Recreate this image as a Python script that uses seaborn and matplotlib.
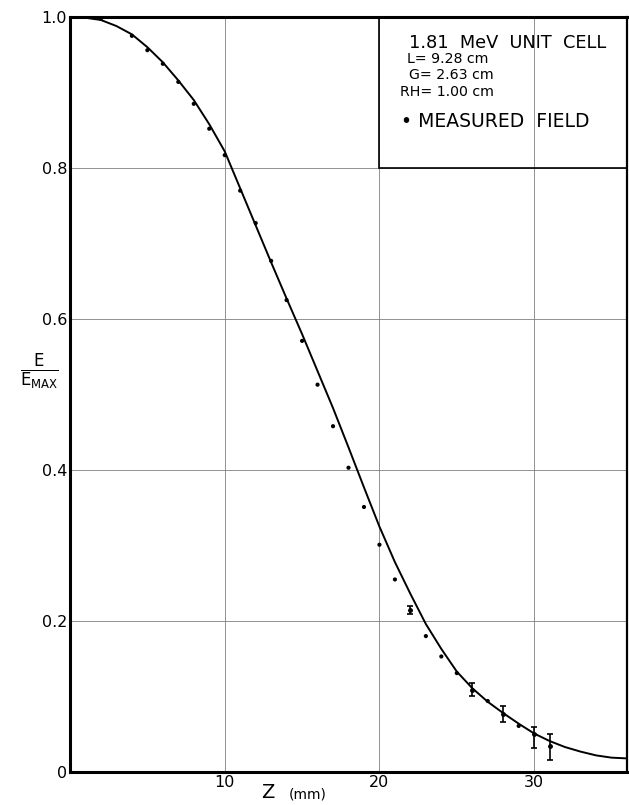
import matplotlib
matplotlib.use("Agg")
import matplotlib.pyplot as plt
import seaborn as sns
import pandas as pd
from matplotlib.patches import Rectangle

# Calculated field curve
z_curve = [0, 1, 2, 3, 4, 5, 6, 7, 8, 9, 10, 11, 12, 13, 14, 15, 16, 17, 18,
           19, 20, 21, 22, 23, 24, 25, 26, 27, 28, 29, 30, 31, 32, 33, 34, 35, 36]
e_curve = [1.000, 0.999, 0.996, 0.988, 0.977, 0.960, 0.940, 0.916, 0.890, 0.858,
           0.822, 0.773, 0.724, 0.675, 0.627, 0.580, 0.531, 0.482, 0.430, 0.377,
           0.325, 0.278, 0.236, 0.196, 0.163, 0.133, 0.111, 0.093, 0.078, 0.064,
           0.051, 0.041, 0.033, 0.027, 0.022, 0.019, 0.018]

# Measured field points
z_meas = [2, 4, 5, 6, 7, 8, 9, 10, 11, 12, 13, 14, 15, 16, 17, 18, 19, 20,
          21, 23, 24, 25, 27, 29]
e_meas = [0.998, 0.975, 0.956, 0.938, 0.914, 0.885, 0.852, 0.817, 0.770, 0.727,
          0.677, 0.625, 0.571, 0.513, 0.458, 0.403, 0.351, 0.301, 0.255, 0.180,
          0.153, 0.131, 0.094, 0.061]

# Points with error bars
z_err = [22, 26, 28, 30, 31]
e_err = [0.215, 0.109, 0.077, 0.050, 0.034]
err_lo = [0.0055, 0.009, 0.011, 0.018, 0.018]
err_hi = [0.0055, 0.009, 0.011, 0.010, 0.016]

x_ticks = [10, 20, 30]
y_ticks = [0, 0.2, 0.4, 0.6, 0.8, 1.0]
y_tick_labels = ['0', '0.2', '0.4', '0.6', '0.8', '1.0']

legend_title = '1.81  MeV  UNIT  CELL'
legend_lines = ['L= 9.28 cm', 'G= 2.63 cm', 'RH= 1.00 cm']

sns.set_theme(style="white")
plt.rcParams['font.family'] = ['DejaVu Sans']
plt.rcParams['mathtext.fontset'] = 'dejavusans'
plt.rcParams['text.color'] = 'black'

fig = plt.figure(figsize=(6.29, 8.05), dpi=100)
ax = fig.add_axes([0.1113, 0.041, 0.8855, 0.9379])

curve = pd.DataFrame({'z': z_curve, 'e': e_curve})
meas = pd.DataFrame({'z': z_meas, 'e': e_meas})

sns.lineplot(data=curve, x='z', y='e', ax=ax, color='black', linewidth=1.4, zorder=4)
sns.scatterplot(data=meas, x='z', y='e', ax=ax, color='black', s=9, edgecolor='none', zorder=5)
ax.errorbar(z_err, e_err, yerr=[err_lo, err_hi], fmt='o', color='black', markersize=2.5,
            elinewidth=1.2, capsize=2.5, capthick=1.2, zorder=5)

ax.set_xlim(0, 36)
ax.set_ylim(0, 1.0)
ax.set_xticks(x_ticks)
ax.set_xticklabels([str(t) for t in x_ticks], fontsize=11.5)
ax.set_yticks(y_ticks)
ax.set_yticklabels(y_tick_labels, fontsize=11.5)
ax.tick_params(length=0, pad=2, colors='black')
ax.set_xlabel('')
ax.set_ylabel('')

ax.grid(True, color='0.5', linewidth=0.6, linestyle='-')
ax.set_axisbelow(True)
for side in ['left', 'bottom', 'top']:
    ax.spines[side].set_linewidth(2.2)
ax.spines['right'].set_linewidth(1.6)
for sp in ax.spines.values():
    sp.set_color('black')

# legend box in the upper right corner
ax.add_patch(Rectangle((20, 0.8), 16, 0.2, fill=False, edgecolor='black', linewidth=1.2,
                       zorder=6, clip_on=False))
ax.text(21.9, 0.966, legend_title, fontsize=12.8, va='center', ha='left', zorder=7)
y_pos = [0.945, 0.923, 0.901]
x_pos = [21.8, 21.9, 21.3]
for txt, xx, yy in zip(legend_lines, x_pos, y_pos):
    ax.text(xx, yy, txt, fontsize=10.2, va='center', ha='left', zorder=7)
ax.text(21.4, 0.861, '\u2022 MEASURED  FIELD', fontsize=13.5, va='center', ha='left', zorder=7)

# axis labels
ax.text(0.355, -0.015, 'Z', transform=ax.transAxes, fontsize=14, ha='center', va='top')
ax.text(0.427, -0.021, '(mm)', transform=ax.transAxes, fontsize=10, ha='center', va='top')
ax.text(-0.055, 0.530, r'$\frac{\mathrm{E}}{\mathrm{E}_{\mathrm{MAX}}}$', transform=ax.transAxes,
        fontsize=17, ha='center', va='center')

fig.savefig('out.png', dpi=100)
plt.close(fig)
